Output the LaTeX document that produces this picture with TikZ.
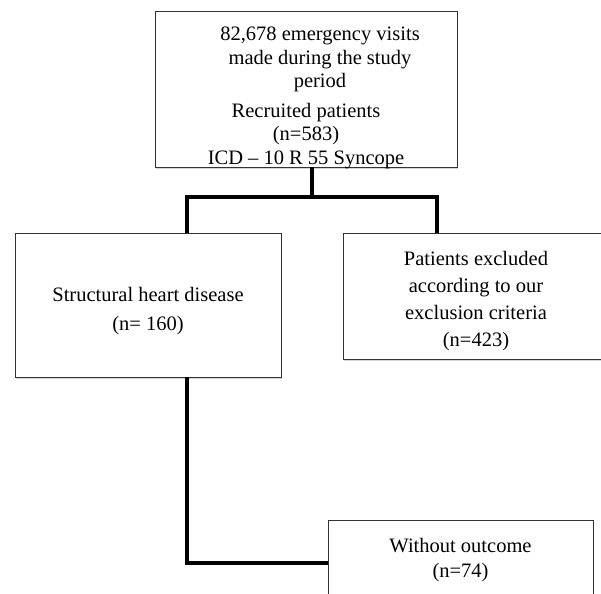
\documentclass[tikz,border=0pt]{standalone}
\usepackage{fontspec}
\setmainfont{Liberation Serif}
\usetikzlibrary{shadows}
\begin{document}
\begin{tikzpicture}[x=1pt,y=1pt,
  box/.style={draw=black!80, line width=0.9pt, fill=white, align=center, inner sep=0pt,
    drop shadow={shadow xshift=1.2pt, shadow yshift=-1.8pt, opacity=0.35}},
  link/.style={draw=black, line width=3.8pt, line join=miter}]
\useasboundingbox (0,0) rectangle (601,-593);
\clip (0,0) rectangle (601,-593);
\node[box, minimum width=302, minimum height=156,
  label={[yshift=-9pt, align=center, inner sep=0pt, font=\fontsize{20.5}{23.5}\selectfont]center:{\hspace*{28pt}82,678 emergency visits\\ \hspace*{28pt}made during the study\\ \hspace*{28pt}period\\[6pt] Recruited patients\\ (n=583)\\ ICD -- 10 R 55 Syncope}}] (top) at (306,-89) {};
\node[box, minimum width=266, minimum height=144, font=\fontsize{20.5}{29}\selectfont] (shd) at (148,-305)
  {\rule{0pt}{27pt}Structural heart disease\\ (n= 160)};
\node[box, minimum width=266, minimum height=126, font=\fontsize{20.5}{27}\selectfont] (excl) at (476,-296)
  {\rule{0pt}{25pt}Patients excluded\\ according to our\\ exclusion criteria\\ (n=423)};
\node[box, minimum width=265, minimum height=80, font=\fontsize{20.5}{25.5}\selectfont] (wo) at (460.5,-560)
  {Without outcome\\ (n=74)};
\coordinate (jt) at (312,-197);
\coordinate (jl) at (187,-197);
\coordinate (jr) at (437,-197);
\coordinate (jb) at (187,-563);
\draw[link] (jt |- top.south) -- (jt);
\draw[link] (jl |- shd.north) -- (jl) -- (jr) -- (jr |- excl.north);
\draw[link] (jl |- shd.south) -- (jb) -- (jb -| wo.west);
\end{tikzpicture}
\end{document}
